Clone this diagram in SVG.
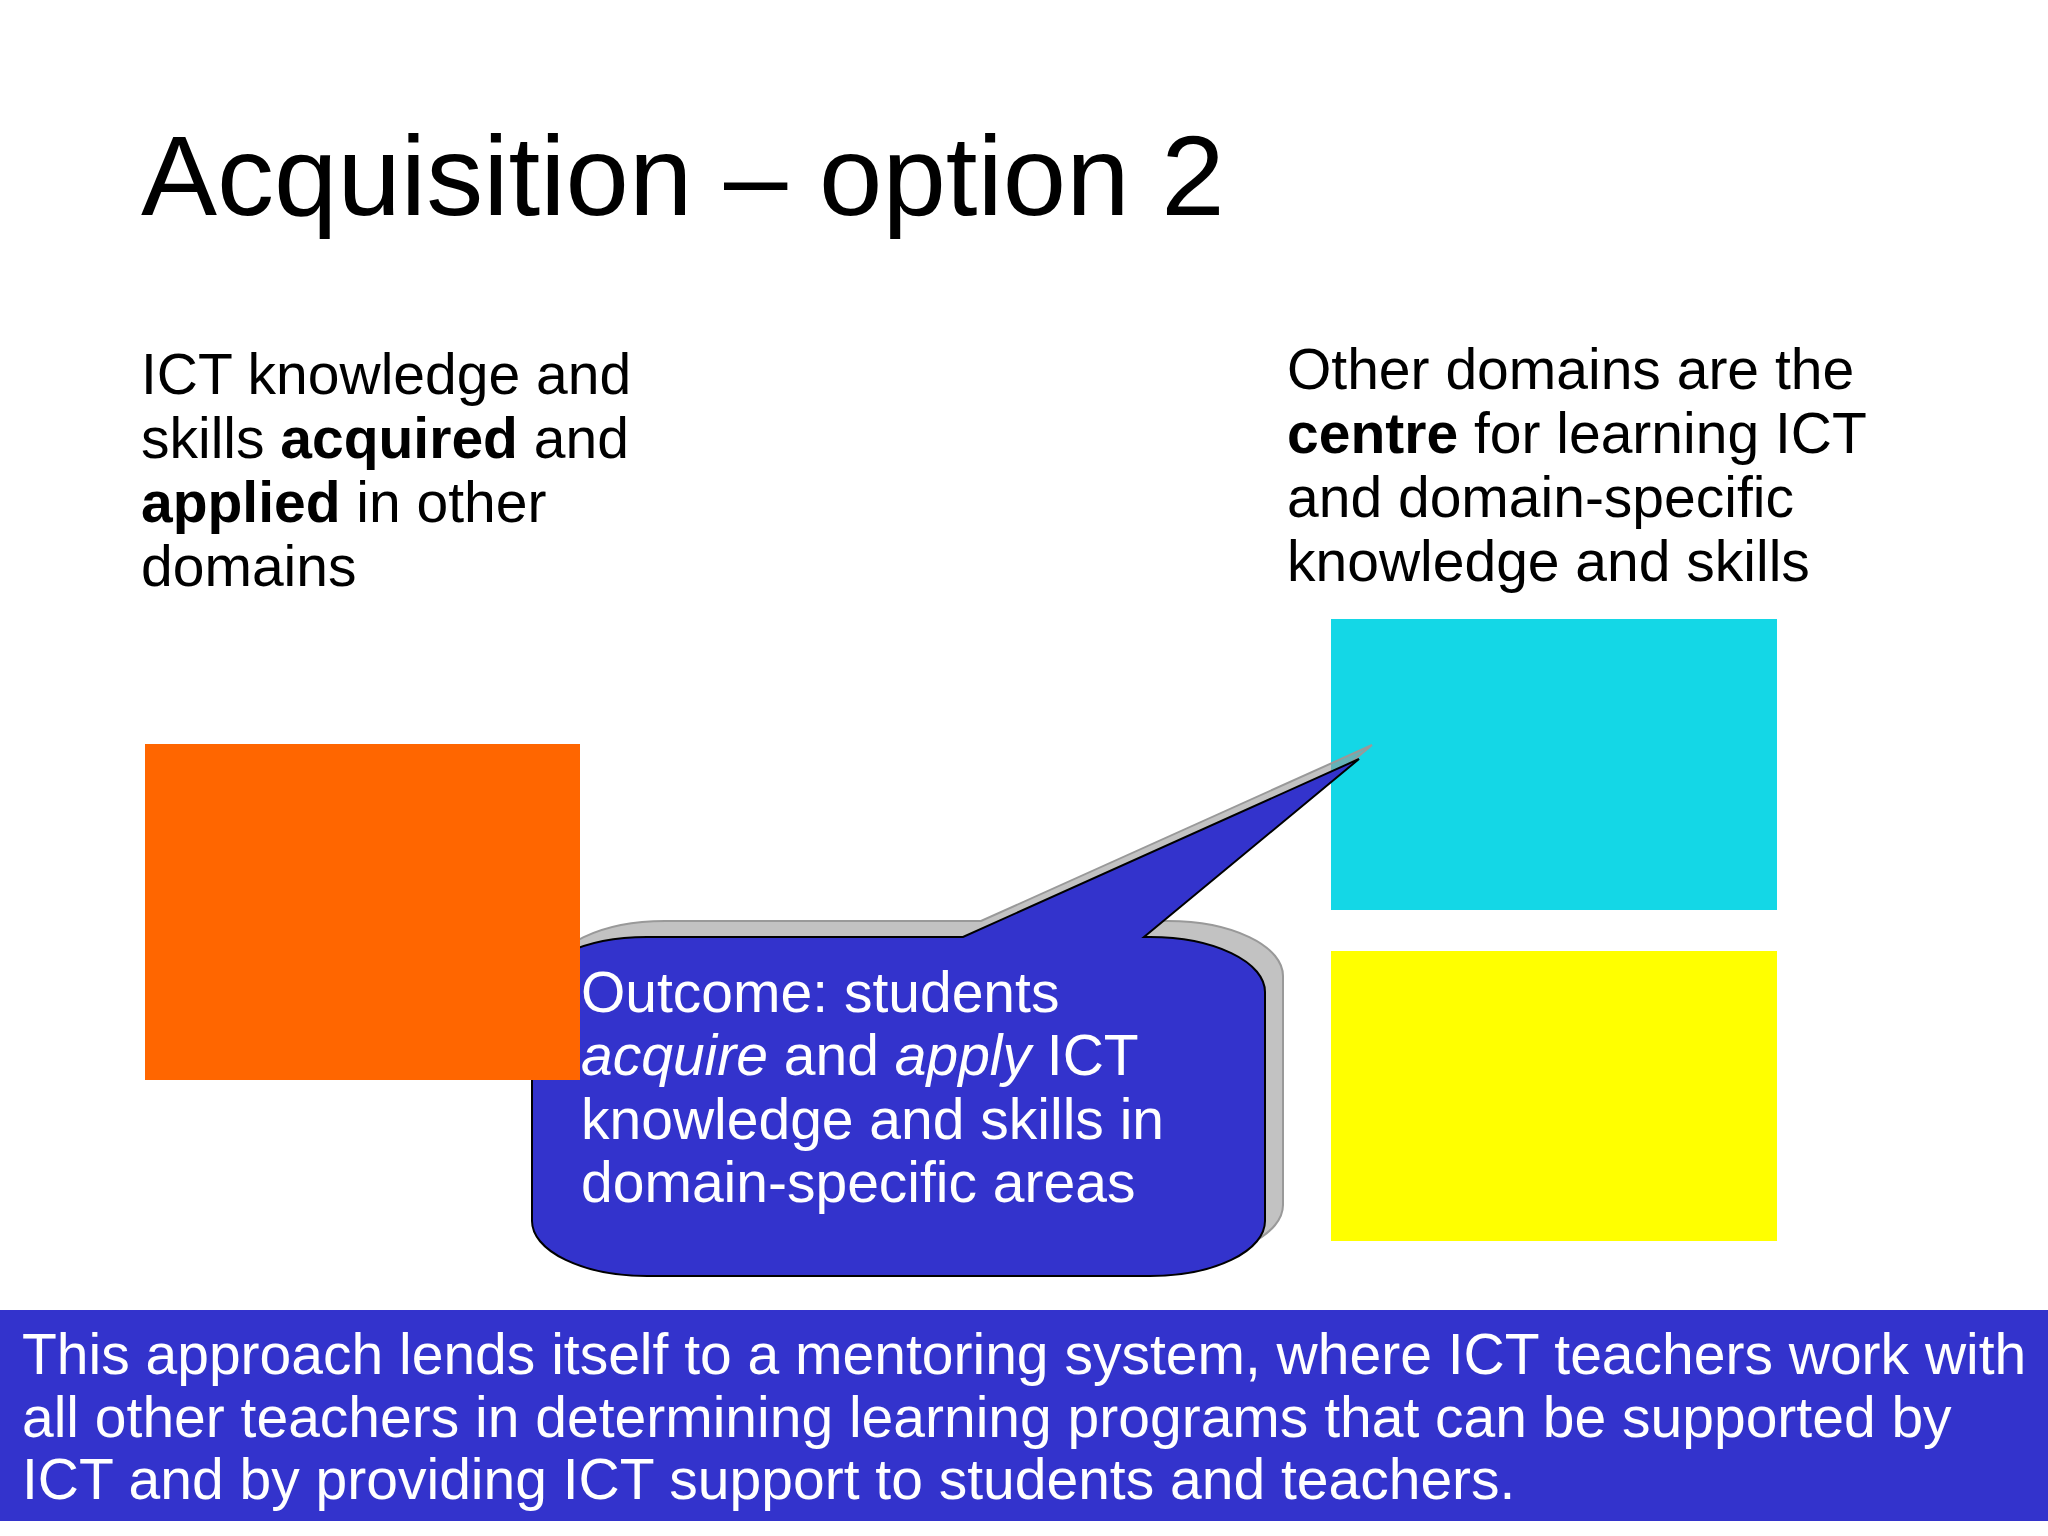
<svg xmlns="http://www.w3.org/2000/svg" width="2048" height="1536" viewBox="0 0 2048 1536">
<style>
text{font-family:"Liberation Sans",Arial,sans-serif;}
.t{font-size:57px;fill:#000;}
.w{font-size:57px;fill:#fff;}
.b{font-weight:bold;}
.i{font-style:italic;}
</style>
<rect width="2048" height="1536" fill="#fff"/>
<g id="title"><text x="141" y="215" font-size="114" fill="#000">Acquisition – option 2</text></g>
<g id="left-text">
<text class="t" x="141" y="394">ICT knowledge and</text>
<text class="t" x="141" y="458">skills <tspan class="b">acquired</tspan> and</text>
<text class="t" x="141" y="522"><tspan class="b">applied</tspan> in other</text>
<text class="t" x="141" y="586">domains</text>
</g>
<g id="right-text">
<text class="t" x="1287" y="389">Other domains are the</text>
<text class="t" x="1287" y="453"><tspan class="b">centre</tspan> for learning ICT</text>
<text class="t" x="1287" y="517">and domain-specific</text>
<text class="t" x="1287" y="581">knowledge and skills</text>
</g>
<g id="cyan-box"><rect x="1331" y="619" width="446" height="291" fill="#14D7E6"/></g>
<g id="yellow-box"><rect x="1331" y="951" width="446" height="290" fill="#FFFF00"/></g>
<g id="outcome-callout">
<path d="M665,921 L981,921 L1372,745 L1162,921 L1168,921 A115,55 0 0 1 1283,976 L1283,1205 A115,55 0 0 1 1168,1260 L665,1260 A115,55 0 0 1 550,1205 L550,976 A115,55 0 0 1 665,921 Z" fill="#999" fill-opacity="0.6" stroke="#999" stroke-width="2"/>
<path d="M647,937 L963,937 L1359,759 L1144,937 L1150,937 A115,55 0 0 1 1265,992 L1265,1221 A115,55 0 0 1 1150,1276 L647,1276 A115,55 0 0 1 532,1221 L532,992 A115,55 0 0 1 647,937 Z" fill="#3333CC" stroke="#000" stroke-width="2"/>
</g>
<g id="orange-box"><rect x="145" y="744" width="435" height="336" fill="#FF6600"/></g>
<g id="outcome-text">
<text class="w" x="581" y="1012">Outcome: students</text>
<text class="w" x="581" y="1075"><tspan class="i">acquire</tspan> and <tspan class="i">apply</tspan> ICT</text>
<text class="w" x="581" y="1139">knowledge and skills in</text>
<text class="w" x="581" y="1202">domain-specific areas</text>
</g>
<g id="footer">
<rect x="0" y="1310" width="2048" height="211" fill="#3333CC"/>
<text class="w" x="22" y="1374">This approach lends itself to a mentoring system, where ICT teachers work with</text>
<text class="w" x="22" y="1437">all other teachers in determining learning programs that can be supported by</text>
<text class="w" x="22" y="1499">ICT and by providing ICT support to students and teachers.</text>
</g>
</svg>
